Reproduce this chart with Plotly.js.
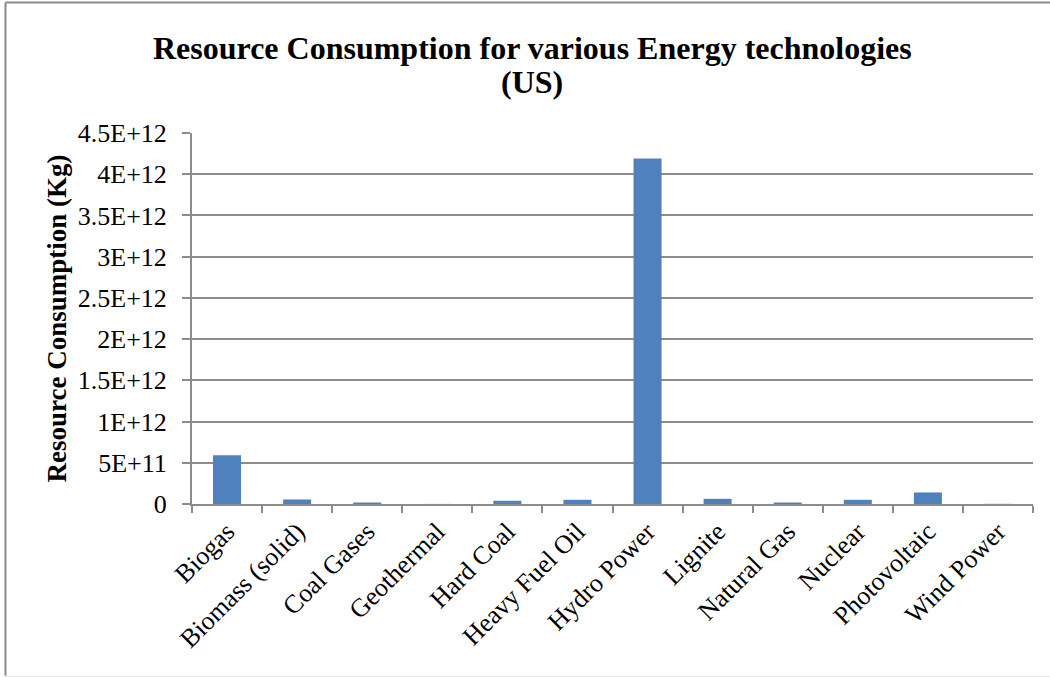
<!DOCTYPE html>
<html>
<head>
<meta charset="utf-8">
<script src="https://cdn.plot.ly/plotly-3.0.1.min.js"></script>
<style>
  html, body { margin: 0; padding: 0; background: #ffffff; }
  #chart { width: 1050px; height: 677px; }
</style>
</head>
<body>
<div id="chart"></div>
<script>
// Energy technologies on the category axis
const technologies = [
  'Biogas', 'Biomass (solid)', 'Coal Gases', 'Geothermal', 'Hard Coal',
  'Heavy Fuel Oil', 'Hydro Power', 'Lignite', 'Natural Gas', 'Nuclear',
  'Photovoltaic', 'Wind Power'
];

// Resource consumption per technology, kg
const consumptionKg = [
  5.9e11, 5.5e10, 1.8e10, 1e9, 3.9e10,
  5.1e10, 4.19e12, 6.3e10, 1.8e10, 5.1e10,
  1.4e11, 2e9
];

// Value axis ticks and their labels
const yTickValues = [0, 5e11, 1e12, 1.5e12, 2e12, 2.5e12, 3e12, 3.5e12, 4e12, 4.5e12];
const yTickLabels = ['0', '5E+11', '1E+12', '1.5E+12', '2E+12', '2.5E+12', '3E+12', '3.5E+12', '4E+12', '4.5E+12'];

// Two-line chart heading
const titleMain = 'Resource Consumption for various Energy technologies';
const titleSub = '(US)';

const serif = 'Liberation Serif, Times New Roman, serif';
const gridGray = '#8c8c8c';

const trace = {
  type: 'bar',
  x: technologies,
  y: consumptionKg,
  width: 0.4,
  marker: { color: '#4f81bd', line: { width: 0 } },
  hoverinfo: 'x+y'
};

// frame around the whole chart area (left, top, bottom edges)
const frame = [
  { type: 'line', xref: 'paper', yref: 'paper', x0: -0.2218, x1: -0.2218, y0: 1.352, y1: -0.463,
    line: { color: '#8a8a8a', width: 2 } },
  { type: 'line', xref: 'paper', yref: 'paper', x0: -0.2218, x1: 1.03, y0: 1.352, y1: 1.352,
    line: { color: '#8a8a8a', width: 2 } },
  { type: 'line', xref: 'paper', yref: 'paper', x0: -0.2218, x1: 1.03, y0: -0.465, y1: -0.465,
    line: { color: '#e6e6e6', width: 1 } }
];

const layout = {
  width: 1050,
  height: 677,
  margin: { l: 192, r: 17, t: 133, b: 173, pad: 0 },
  paper_bgcolor: '#ffffff',
  plot_bgcolor: '#ffffff',
  showlegend: false,
  bargap: 0.6,
  title: {
    text: '<b>' + titleMain + '</b>',
    font: { family: serif, size: 32, color: '#000000' },
    xref: 'container', x: 0.507, xanchor: 'center',
    yref: 'container', y: 1 - 48 / 677, yanchor: 'middle'
  },
  annotations: [{
    text: '<b>' + titleSub + '</b>',
    font: { family: serif, size: 32, color: '#000000' },
    xref: 'paper', yref: 'paper',
    x: (532 - 192) / 841, y: (504 - 82) / 371,
    xanchor: 'center', yanchor: 'middle',
    showarrow: false
  }],
  xaxis: {
    type: 'category',
    tickangle: -45,
    tickfont: { family: serif, size: 26, color: '#000000' },
    ticks: 'outside',
    tickson: 'boundaries',
    ticklen: 7,
    tickcolor: gridGray,
    tickwidth: 2,
    showline: true,
    linecolor: gridGray,
    linewidth: 2,
    showgrid: false,
    zeroline: false
  },
  yaxis: {
    range: [0, 4.5e12],
    tickmode: 'array',
    tickvals: yTickValues,
    ticktext: yTickLabels,
    tickfont: { family: serif, size: 26, color: '#000000' },
    ticks: 'outside',
    ticklen: 8,
    tickcolor: gridGray,
    tickwidth: 2,
    ticklabelstandoff: 10,
    showline: true,
    linecolor: gridGray,
    linewidth: 2,
    showgrid: true,
    gridcolor: gridGray,
    gridwidth: 2,
    zeroline: false,
    title: {
      text: '<b>Resource Consumption (Kg)</b>',
      font: { family: serif, size: 27, color: '#000000' },
      standoff: 3
    }
  },
  shapes: frame
};

Plotly.newPlot('chart', [trace], layout, { displayModeBar: false, staticPlot: true });
</script>
</body>
</html>
